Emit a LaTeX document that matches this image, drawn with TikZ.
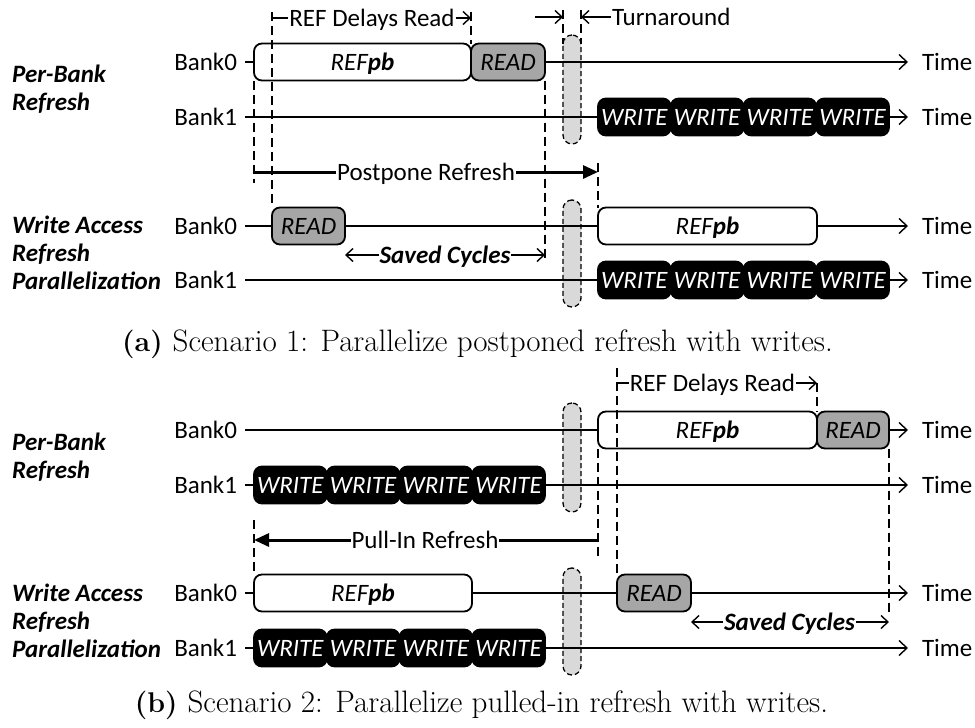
\documentclass[tikz,border=0pt]{standalone}
\usepackage{fontspec}
\newfontfamily\cf{Carlito}
\usetikzlibrary{arrows.meta}
\begin{document}
\begin{tikzpicture}[x=1pt,y=-1pt,
  every node/.style={font={\cf\fontsize{25}{27.5}\selectfont}},
  one/.style={text height=16pt,text depth=0pt,inner ysep=0pt},
  lane/.style={line width=1.4pt},
  timearrow/.style={line width=1.4pt,-{Straight Barb[length=8pt,width=15pt]}},
  dimline/.style={line width=1.4pt},
  dimarrow/.style={line width=1.4pt,-{Straight Barb[length=7pt,width=13pt]}},
  guide/.style={line width=1.4pt,dash pattern=on 9pt off 5pt},
  thickline/.style={line width=3pt},
  bigarrow/.style={line width=3pt,-{Triangle[length=15pt,width=13pt]}},
  box/.style={one,draw,line width=1.8pt,rounded corners=8pt,minimum height=37pt,inner xsep=0pt,outer sep=0pt,anchor=west,font={\cf\itshape\fontsize{25}{27.5}\selectfont}},
  refbox/.style={box,fill=white},
  readbox/.style={box,fill=gray!70},
  writebox/.style={box,fill=black,text=white,minimum width=72.75pt},
  capsule/.style={draw,line width=1.3pt,dash pattern=on 5pt off 3pt,fill=gray!30,rounded corners=9pt,minimum width=18pt,inner sep=0pt,outer sep=0pt},
  bank/.style={one,anchor=east,inner xsep=8pt,outer sep=0pt},
  timel/.style={one,anchor=west,inner xsep=14pt,outer sep=0pt},
  lbl/.style={one,inner xsep=1pt,outer sep=0pt},
  bilbl/.style={one,inner xsep=1pt,outer sep=0pt,font={\cf\bfseries\itshape\fontsize{25}{27.5}\selectfont}},
  title/.style={anchor=west,align=left,inner sep=0pt,font={\cf\bfseries\itshape\fontsize{25}{28}\selectfont}},
  capt/.style={anchor=base,inner sep=0pt,font={\rmfamily\fontsize{31}{36}\selectfont}}
]
\useasboundingbox (0,0) rectangle (975,728);

% ================= (a) =================
\node[capsule,minimum height=109pt] (capA1) at (572,89.5) {};
\node[capsule,minimum height=107pt] (capA2) at (572,253.5) {};

\node[title] (tA1) at (12,89) {Per-Bank\\Refresh};
\node[title] (tA2) at (12,253) {Write Access\\Refresh\\Parallelization};

% top rows
\node[bank] (a0) at (245,62) {Bank0};
\node[bank] (a1) at (245,117) {Bank1};
\node[refbox,minimum width=217pt] (aREF) at (254,62) {REF\textbf{pb}};
\node[readbox,minimum width=74pt] (aRD) at (aREF.east) {READ};
\node[writebox] (aW1) at (598,117) {WRITE};
\node[writebox] (aW2) at (aW1.east) {WRITE};
\node[writebox] (aW3) at (aW2.east) {WRITE};
\node[writebox] (aW4) at (aW3.east) {WRITE};
\node[timel] (aT0) at (908,62) {Time};
\node[timel] (aT1) at (908,117) {Time};
\draw[lane] (a0.east) -- (aREF.west);
\draw[timearrow] (aRD.east) -- (aT0.west);
\draw[lane] (a1.east) -- (aW1.west);
\draw[timearrow] (aW4.east) -- (aT1.west);

% lower rows
\node[bank] (b0) at (245,226) {Bank0};
\node[bank] (b1) at (245,280) {Bank1};
\node[readbox,minimum width=73pt] (bRD) at (272,226) {READ};
\node[refbox,minimum width=219pt] (bREF) at (598,226) {REF\textbf{pb}};
\node[writebox] (bW1) at (598,280) {WRITE};
\node[writebox] (bW2) at (bW1.east) {WRITE};
\node[writebox] (bW3) at (bW2.east) {WRITE};
\node[writebox] (bW4) at (bW3.east) {WRITE};
\node[timel] (bT0) at (908,226) {Time};
\node[timel] (bT1) at (908,280) {Time};
\draw[lane] (b0.east) -- (bRD.west);
\draw[lane] (bRD.east) -- (bREF.west);
\draw[timearrow] (bREF.east) -- (bT0.west);
\draw[lane] (b1.east) -- (bW1.west);
\draw[timearrow] (bW4.east) -- (bT1.west);

% guides (a)
\coordinate (gA1) at (254,183);
\coordinate (gA2) at (272,12);
\coordinate (gA3) at (471,12);
\coordinate (gA4) at (545,260);
\coordinate (gA5) at (563,10);
\coordinate (gA5b) at (563,44);
\coordinate (gA6) at (581,10);
\coordinate (gA6b) at (581,44);
\coordinate (gA7) at (598,163);
\draw[guide] (aREF.south west) -- (aREF.south west |- gA1);
\draw[guide] (gA2) -- (gA2 |- bRD.north);
\draw[guide] (gA3) -- (gA3 |- aRD.north);
\draw[guide] (aRD.south east) -- (aRD.south east |- gA4);
\draw[guide] (gA5) -- (gA5b);
\draw[guide] (gA6) -- (gA6b);
\draw[guide] (gA7) -- (gA7 |- bREF.north);

% labels (a)
\node[lbl] (rdA) at (372,18) {REF Delays Read};
\coordinate (rdAl) at (272,18);
\coordinate (rdAr) at (471,18);
\draw[dimline] (rdAl) -- (rdA.west);
\draw[dimarrow] (rdA.east) -- (rdAr);

\node[lbl,anchor=west] (ta) at (611,17) {Turnaround};
\coordinate (taL) at (535,17);
\coordinate (taA) at (563,17);
\coordinate (taB) at (581,17);
\draw[dimarrow] (taL) -- (taA);
\draw[dimarrow] (ta.west) -- (taB);

\node[lbl] (pp) at (426,172) {Postpone Refresh};
\coordinate (ppL) at (254,172);
\coordinate (ppR) at (598,172);
\draw[thickline] (ppL) -- (pp.west);
\draw[bigarrow] (pp.east) -- (ppR);

\node[bilbl] (svA) at (445,255) {Saved Cycles};
\draw[dimarrow] (svA.west) -- (bRD.east |- svA.west);
\draw[dimarrow] (svA.east) -- (aRD.east |- svA.east);

\node[capt] (capa) at (477.5,351) {\fontsize{28.5}{36}\selectfont\textbf{(a)}\hspace{0.35em}\fontsize{31}{36}\selectfont Scenario 1: Parallelize postponed refresh with writes.};

% ================= (b) =================
\node[capsule,minimum height=109pt] (capB1) at (572,457.5) {};
\node[capsule,minimum height=107pt] (capB2) at (572,621.5) {};

\node[title] (tB1) at (12,457.5) {Per-Bank\\Refresh};
\node[title] (tB2) at (12,620.5) {Write Access\\Refresh\\Parallelization};

\node[bank] (c0) at (245,430) {Bank0};
\node[bank] (c1) at (245,485) {Bank1};
\node[refbox,minimum width=219pt] (cREF) at (598,430) {REF\textbf{pb}};
\node[readbox,minimum width=72pt] (cRD) at (cREF.east) {READ};
\node[writebox] (cW1) at (254,485) {WRITE};
\node[writebox] (cW2) at (cW1.east) {WRITE};
\node[writebox] (cW3) at (cW2.east) {WRITE};
\node[writebox] (cW4) at (cW3.east) {WRITE};
\node[timel] (cT0) at (908,430) {Time};
\node[timel] (cT1) at (908,485) {Time};
\draw[lane] (c0.east) -- (cREF.west);
\draw[timearrow] (cRD.east) -- (cT0.west);
\draw[lane] (c1.east) -- (cW1.west);
\draw[timearrow] (cW4.east) -- (cT1.west);

\node[bank] (d0) at (245,593) {Bank0};
\node[bank] (d1) at (245,648) {Bank1};
\node[refbox,minimum width=218pt] (dREF) at (254,593) {REF\textbf{pb}};
\node[readbox,minimum width=74pt] (dRD) at (617,593) {READ};
\node[writebox] (dW1) at (254,648) {WRITE};
\node[writebox] (dW2) at (dW1.east) {WRITE};
\node[writebox] (dW3) at (dW2.east) {WRITE};
\node[writebox] (dW4) at (dW3.east) {WRITE};
\node[timel] (dT0) at (908,593) {Time};
\node[timel] (dT1) at (908,648) {Time};
\draw[lane] (d0.east) -- (dREF.west);
\draw[lane] (dREF.east) -- (dRD.west);
\draw[timearrow] (dRD.east) -- (dT0.west);
\draw[lane] (d1.east) -- (dW1.west);
\draw[timearrow] (dW4.east) -- (dT1.west);

% guides (b)
\coordinate (gB1) at (617,368);
\coordinate (gB2) at (817,383);
\coordinate (gB3) at (598,557);
\coordinate (gB4) at (254,520);
\coordinate (gB5) at (889,615);
\draw[guide] (gB1) -- (gB1 |- dRD.north);
\draw[guide] (gB2) -- (gB2 |- cRD.north);
\draw[guide] (cREF.south west) -- (cREF.south west |- gB3);
\draw[guide] (gB4) -- (gB4 |- dREF.north);
\draw[guide] (cRD.south east) -- (cRD.south east |- gB5);

% labels (b)
\node[lbl] (rdB) at (712.5,383) {REF Delays Read};
\coordinate (rdBl) at (617,383);
\coordinate (rdBr) at (817,383);
\draw[dimline] (rdBl) -- (rdB.west);
\draw[dimarrow] (rdB.east) -- (rdBr);

\node[lbl] (pi) at (425,540) {Pull-In Refresh};
\coordinate (piR) at (598,540);
\coordinate (piL) at (254,540);
\draw[thickline] (piR) -- (pi.east);
\draw[bigarrow] (pi.west) -- (piL);

\node[bilbl] (svB) at (789.5,622) {Saved Cycles};
\draw[dimarrow] (svB.west) -- (dRD.east |- svB.west);
\draw[dimarrow] (svB.east) -- (cRD.east |- svB.east);

\node[capt] (capb) at (481.5,712) {\fontsize{28.5}{36}\selectfont\textbf{(b)}\hspace{0.35em}\fontsize{31}{36}\selectfont Scenario 2: Parallelize pulled-in refresh with writes.};
\end{tikzpicture}
\end{document}
